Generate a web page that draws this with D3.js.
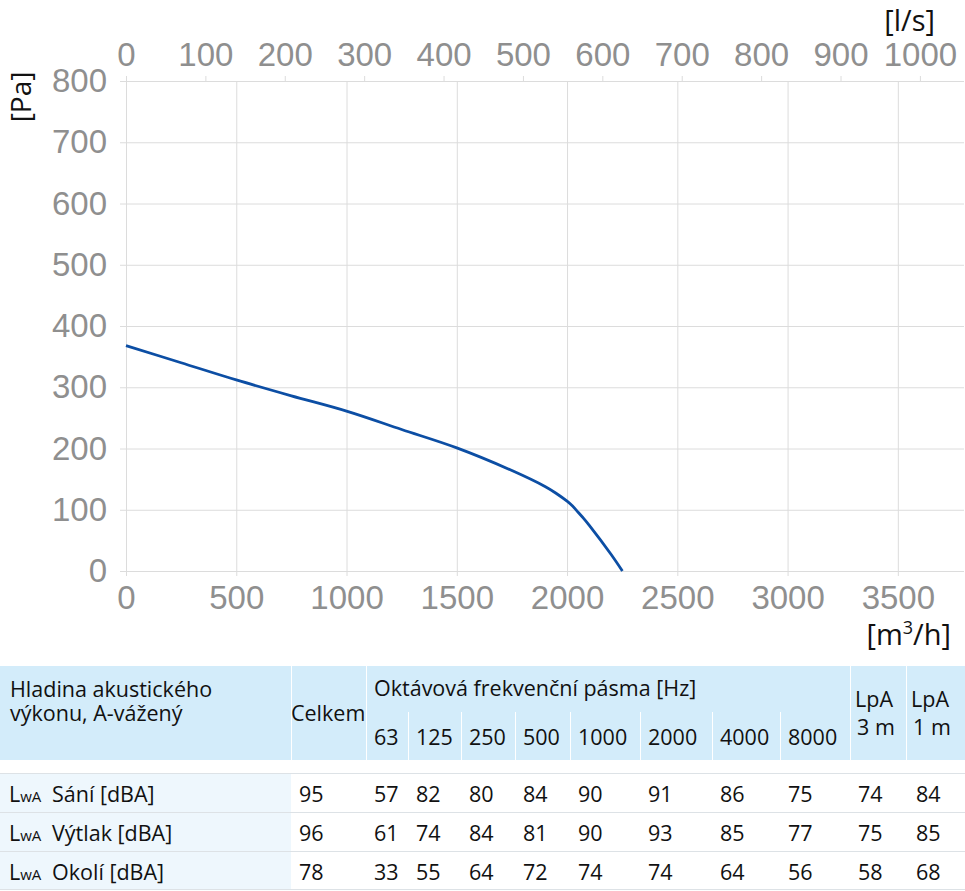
<!DOCTYPE html>
<html>
<head>
<meta charset="utf-8">
<script src="https://cdn.jsdelivr.net/npm/d3@7"></script>
<style>
  html, body { margin: 0; padding: 0; background: #fff; }
  svg { display: block; font-family: "Open Sans", sans-serif; }
  .tick text { fill: #8f8f8f; font-size: 33px; font-stretch: 85%; }
  .grid line { stroke: #dcdcdc; }
</style>
</head>
<body>
<div id="chart"></div>
<script>
// ---------- data ----------
const flow = [0, 250, 500, 750, 1000, 1250, 1500, 1750, 1900, 1950, 2000, 2025, 2050, 2075, 2100, 2200, 2251];   // m3/h
const pressure = [368, 340, 312, 286, 261, 231, 201, 164, 138, 127, 114, 106, 96, 86, 75, 27, 0];              // Pa
const xTicks = [0, 500, 1000, 1500, 2000, 2500, 3000, 3500];
const xTopTicks = [0, 100, 200, 300, 400, 500, 600, 700, 800, 900, 1000];
const yTicks = [0, 100, 200, 300, 400, 500, 600, 700, 800];

const headerLabel = ["Hladina akustického", "výkonu, A-vážený"];
const headerTotal = "Celkem";
const headerOctave = "Oktávová frekvenční pásma [Hz]";
const freqBands = ["63", "125", "250", "500", "1000", "2000", "4000", "8000"];
const headerLpa = [["LpA", "3 m"], ["LpA", "1 m"]];
const rowLabels = ["Sání [dBA]", "Výtlak [dBA]", "Okolí [dBA]"];
const totals = [95, 96, 78];
const octSani = [57, 82, 80, 84, 90, 91, 86, 75];
const octVytlak = [61, 74, 84, 81, 90, 93, 85, 77];
const octOkoli = [33, 55, 64, 72, 74, 74, 64, 56];
const lpa3m = [74, 75, 58];
const lpa1m = [84, 85, 68];

// ---------- layout ----------
const W = 965, H = 891;
const svg = d3.select("#chart").append("svg").attr("width", W).attr("height", H);

const pL = 126, pR = 964, pT = 81, pB = 571;
const x = d3.scaleLinear().domain([0, 3800]).range([pL, pR]);
const xTop = d3.scaleLinear().domain([0, 3800 / 3.6]).range([pL, pR]);
const y = d3.scaleLinear().domain([0, 800]).range([pB, pT]);

// horizontal grid + y labels
const gy = svg.append("g").attr("class", "grid")
  .attr("transform", `translate(${pL},0)`)
  .call(d3.axisLeft(y).tickValues(yTicks).tickSize(-(pR - pL)).tickPadding(19).tickFormat(d3.format("d")));
gy.select(".domain").remove();
gy.selectAll(".tick line").attr("x1", -6).attr("x2", pR - pL);

// vertical grid + bottom labels
const gx = svg.append("g").attr("class", "grid")
  .attr("transform", `translate(0,${pB})`)
  .call(d3.axisBottom(x).tickValues(xTicks).tickSize(0).tickFormat(d3.format("d")));
gx.select(".domain").remove();
gx.selectAll(".tick line").attr("y1", 5).attr("y2", pT - pB);
gx.selectAll(".tick text").attr("y", 38).attr("dy", 0);

// top axis (l/s)
const gt = svg.append("g").attr("class", "grid")
  .attr("transform", `translate(0,${pT})`)
  .call(d3.axisTop(xTop).tickValues(xTopTicks).tickSize(5).tickPadding(10).tickFormat(d3.format("d")));
gt.select(".domain").remove();
gt.selectAll(".tick text").attr("dy", 0);

// unit labels
svg.append("text").attr("x", 935).attr("y", 31).attr("text-anchor", "end")
  .attr("font-size", 29).attr("fill", "#111").text("[l/s]");
const mh = svg.append("text").attr("x", 951).attr("y", 645).attr("text-anchor", "end")
  .attr("font-size", 29).attr("fill", "#111");
mh.append("tspan").text("[m");
mh.append("tspan").attr("font-size", 18).attr("dy", -11).text("3");
mh.append("tspan").attr("dy", 11).text("/h]");
svg.append("text").attr("transform", "translate(31,97) rotate(-90)").attr("text-anchor", "middle")
  .attr("font-size", 28).attr("fill", "#111").text("[Pa]");

// curve
const pts = flow.map((f, i) => [f, pressure[i]]);
svg.append("path").datum(pts)
  .attr("fill", "none").attr("stroke", "#0c4ea4").attr("stroke-width", 2.8)
  .attr("d", d3.line().x(d => x(d[0])).y(d => y(d[1])).curve(d3.curveCatmullRom.alpha(0.5)));

// ---------- table ----------
const colEdges = [0, 291, 366, 408, 461, 515, 570, 640, 712, 780, 850, 906, 965];
const hdrTop = 666, hdrBot = 760, subTop = 712;
const rowTops = [773, 812, 851, 889];
const headBg = "#d3ecfa", labelBg = "#eef7fd", sepCol = "#dde2e6";
const t = svg.append("g").attr("font-size", 21.5).attr("fill", "#111");

t.append("rect").attr("x", 0).attr("y", hdrTop).attr("width", W).attr("height", hdrBot - hdrTop).attr("fill", headBg);
const fullSeps = [291, 366, 850, 906];
fullSeps.forEach(sx => t.append("line").attr("x1", sx + 0.5).attr("x2", sx + 0.5)
  .attr("y1", hdrTop).attr("y2", hdrBot).attr("stroke", "#fff").attr("stroke-width", 1));
colEdges.slice(3, 10).forEach(sx => t.append("line").attr("x1", sx + 0.5).attr("x2", sx + 0.5)
  .attr("y1", subTop).attr("y2", hdrBot).attr("stroke", "#fff").attr("stroke-width", 1));

t.append("rect").attr("x", 0).attr("y", rowTops[0]).attr("width", 291)
  .attr("height", rowTops[3] - rowTops[0]).attr("fill", labelBg);
rowTops.forEach(ry => t.append("line").attr("x1", 0).attr("x2", W)
  .attr("y1", ry + 0.5).attr("y2", ry + 0.5).attr("stroke", sepCol).attr("stroke-width", 1.2));

headerLabel.forEach((s, i) => t.append("text").attr("x", 10).attr("y", 697 + i * 24).text(s));
t.append("text").attr("x", 291).attr("y", 721).text(headerTotal);
t.append("text").attr("x", 374).attr("y", 696).text(headerOctave);
freqBands.forEach((b, i) => t.append("text").attr("x", colEdges[i + 2] + 8).attr("y", 745).text(b));
headerLpa.forEach((pair, i) => {
  const cx = colEdges[10 + i];
  t.append("text").attr("x", cx + 5).attr("y", 707).text(pair[0]);
  t.append("text").attr("x", cx + 7).attr("y", 735).text(pair[1]);
});

const octRows = [octSani, octVytlak, octOkoli];
rowLabels.forEach((lab, r) => {
  const by = rowTops[r] + 28.5;
  const lt = t.append("text").attr("x", 9).attr("y", by);
  lt.append("tspan").text("L");
  lt.append("tspan").attr("font-size", 15).text("wA");
  t.append("text").attr("x", 52).attr("y", by).text(lab);
  t.append("text").attr("x", 299).attr("y", by).text(totals[r]);
  octRows[r].forEach((v, i) => t.append("text").attr("x", colEdges[i + 2] + 8).attr("y", by).text(v));
  t.append("text").attr("x", colEdges[10] + 8).attr("y", by).text(lpa3m[r]);
  t.append("text").attr("x", colEdges[11] + 10).attr("y", by).text(lpa1m[r]);
});
</script>
</body>
</html>
